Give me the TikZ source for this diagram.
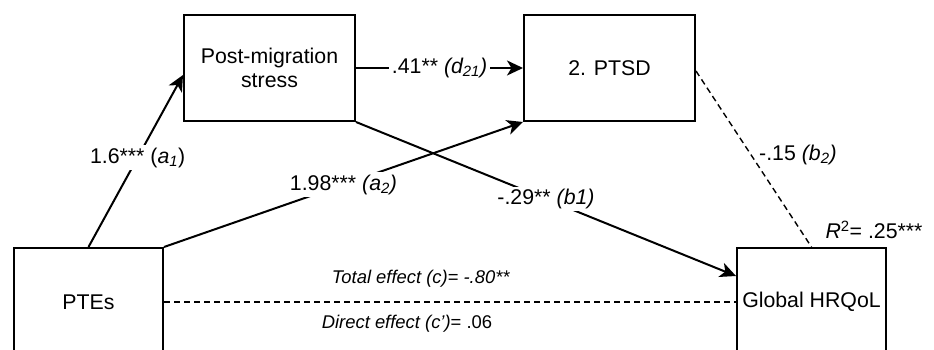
\documentclass[tikz,border=0pt]{standalone}
\usepackage{fontspec}
\setmainfont{Liberation Sans}
\usetikzlibrary{arrows.meta}
\begin{document}
\begin{tikzpicture}[x=1pt,y=-1pt,
  box/.style={draw, line width=2pt, inner sep=0pt, align=center, font=\fontsize{21.3}{24}\selectfont},
  arr/.style={line width=2pt, -{Stealth[length=16pt,width=15pt,inset=4.5pt]}},
  lab/.style={fill=white, inner sep=2.5pt, font=\fontsize{21.3}{24}\selectfont},
  slab/.style={inner sep=0pt, font=\fontsize{18.4}{21}\selectfont}]
\clip (0,0) rectangle (934,350);
\fill[white] (0,0) rectangle (934,350);
\node[box, minimum width=171pt, minimum height=106pt] (pm) at (269.5,68) {Post-migration\\stress};
\node[box, minimum width=171pt, minimum height=106pt] (ptsd) at (609.5,68) {2. PTSD};
\node[box, minimum width=149pt, minimum height=108pt] (ptes) at (88.5,302) {PTEs};
\node[box, minimum width=149pt, minimum height=108pt] (hrq) at (811.5,302) {Global HRQoL};
% dashed b2
\draw[line width=1.4pt, dash pattern=on 6pt off 4pt] ([yshift=-3pt]ptsd.east) -- (hrq.north);
\node[anchor=west, inner sep=0pt, font=\fontsize{21.3}{24}\selectfont] (lb2) at (759,155) {-.15 \textit{(b\textsubscript{2})}};
% total / direct
\draw[line width=1.4pt, dash pattern=on 6pt off 4pt] (ptes.east) -- (hrq.west);
\node[slab] (ltot) at (421,279) {\textit{Total effect (c)= -.80**}};
\node[slab] (ldir) at (407,324) {\textit{Direct effect (c')}= .06};
% b1
\draw[arr] (pm.south east) -- ([yshift=26pt]hrq.west)
  node[lab, pos=0.5] (lb1) {-.29** \textit{(b1)}};
% a2
\draw[arr] (ptes.north east) -- (ptsd.south west)
  node[lab, pos=0.5] (la2) {1.98*** \textit{(a\textsubscript{2})}};
% a1
\draw[arr] (ptes.north) -- ([yshift=-7pt]pm.west)
  node[lab, pos=0.52] (la1) {1.6*** (\textit{a\textsubscript{1}})};
% d21
\draw[arr] (pm.east) -- (ptsd.west)
  node[lab, pos=0.5] (ld) {.41** \textit{(d\textsubscript{21})}};
\node[inner sep=0pt, font=\fontsize{21.3}{24}\selectfont] (r2) at (874,230) {\textit{R}\textsuperscript{2}= .25***};
\end{tikzpicture}
\end{document}
